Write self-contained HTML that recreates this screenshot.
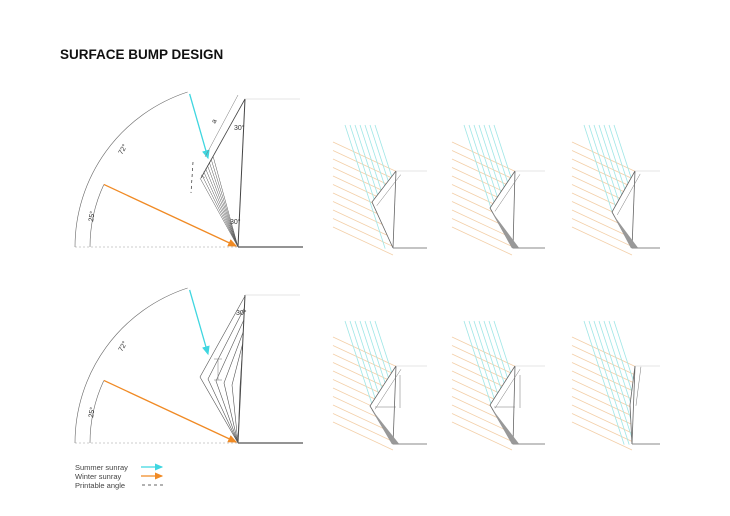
<!DOCTYPE html>
<html><head><meta charset="utf-8"><style>
html,body{margin:0;padding:0;background:#fff;}
svg{display:block;}
text{font-family:"Liberation Sans",sans-serif;}
</style></head><body>
<svg id="s" width="730" height="516" viewBox="0 0 730 516" xmlns="http://www.w3.org/2000/svg">
<defs>
<marker id="ac" markerWidth="8" markerHeight="8" refX="6" refY="3" orient="auto"><path d="M0,0 L7,3 L0,6 z" fill="#3fd6e0"/></marker>
<marker id="ao" markerWidth="8" markerHeight="8" refX="6" refY="3" orient="auto"><path d="M0,0 L7,3 L0,6 z" fill="#f08a24"/></marker>
</defs>
<text x="60" y="59" font-size="13.5" font-weight="bold" fill="#111">SURFACE BUMP DESIGN</text>
<g id="g" fill="none"></g>
<text x="75" y="470" font-size="7.5" fill="#444">Summer sunray</text>
<text x="75" y="479" font-size="7.5" fill="#444">Winter sunray</text>
<text x="75" y="488" font-size="7.5" fill="#444">Printable angle</text>
<line x1="141" y1="467" x2="162" y2="467" stroke="#3fd6e0" stroke-width="1.2" marker-end="url(#ac)"/>
<line x1="141" y1="476" x2="162" y2="476" stroke="#f08a24" stroke-width="1.2" marker-end="url(#ao)"/>
<line x1="142" y1="485" x2="166" y2="485" stroke="#333" stroke-width="0.8" stroke-dasharray="3,3"/>
<g font-size="7" fill="#333">
<text x="122" y="155" transform="rotate(-60 122 155)">72°</text>
<text x="93" y="222" transform="rotate(-80 93 222)">25°</text>
<text x="234" y="130">30°</text>
<text x="230" y="224">30°</text>
<text x="122" y="352" transform="rotate(-60 122 352)">72°</text>
<text x="93" y="418" transform="rotate(-80 93 418)">25°</text>
<text x="236" y="315">30°</text>
<text x="215" y="124" transform="rotate(-60 215 124)">a</text>
</g>
</svg>
<script>
const g=document.getElementById('g');const NS='http://www.w3.org/2000/svg';
function L(x1,y1,x2,y2,c,w,extra){const e=document.createElementNS(NS,'line');e.setAttribute('x1',x1);e.setAttribute('y1',y1);e.setAttribute('x2',x2);e.setAttribute('y2',y2);e.setAttribute('stroke',c);e.setAttribute('stroke-width',w||0.7);if(extra)for(const k in extra)e.setAttribute(k,extra[k]);g.appendChild(e);}
function P(d,c,w,f){const e=document.createElementNS(NS,'path');e.setAttribute('d',d);e.setAttribute('stroke',c);e.setAttribute('stroke-width',w||0.7);e.setAttribute('fill',f||'none');g.appendChild(e);}
function big(oy){
 const ox=238;
 L(75,oy,ox,oy,'#999',0.6,{'stroke-dasharray':'2,2'});
 L(ox,oy,303,oy,'#555',1.2);
 const r1=163,r2=148,a72=72*Math.PI/180,a25=25*Math.PI/180;
 const ex=ox-r1*Math.cos(a72),ey=oy-r1*Math.sin(a72);
 P(`M${ox-r1},${oy} A${r1},${r1} 0 0 1 ${ex},${ey}`,'#666',0.6);
 const fx=ox-r2*Math.cos(a25),fy=oy-r2*Math.sin(a25);
 P(`M${ox-r2},${oy} A${r2},${r2} 0 0 1 ${fx},${fy}`,'#666',0.6);
 L(ex+2,ey+2,208,oy-89,'#3fd6e0',1.3,{'marker-end':'url(#ac)'});
 L(fx,fy,ox-2,oy-1,'#f08a24',1.3,{'marker-end':'url(#ao)'});
 L(245,oy-148,ox,oy,'#444',1);
 L(245,oy-148,300,oy-148,'#ccc',0.6);
}
big(247);big(443);
L(245,99,201,178,'#444',0.8);
L(238,95,205,157,'#777',0.5);L(201,175,205,178,'#777',0.5);
L(193,162,191,193,'#333',0.7,{'stroke-dasharray':'3,3'});
for(let i=0;i<8;i++){const t=i/7;L(200+13*t,178-22*t,238,247,'#555',0.5);}
for(let i=0;i<6;i++){const vx=200+i*8,vy=377+i*2;P(`M${245-i*0.6},${296+i*12} L${vx},${vy} L238,443`,'#555',0.6);}
L(218,359,218,380,'#777',0.5);L(214,359,222,359,'#777',0.5);L(214,380,222,380,'#777',0.5);
function inter(px,py,dx,dy,pts){let best=1e9;for(let i=0;i<pts.length-1;i++){const [ax,ay]=pts[i],[bx,by]=pts[i+1];const ex=bx-ax,ey=by-ay;const den=dx*ey-dy*ex;if(Math.abs(den)<1e-9)continue;const t=((ax-px)*ey-(ay-py)*ex)/den;const u=((ax-px)*dy-(ay-py)*dx)/den;if(t>0&&u>=0&&u<=1&&t<best)best=t;}return best;}
function panel(ax,ay,vx,vy,bx,by,hEnd,shade,rayTop){
 const pts=[[ax,ay],[vx,vy],[bx,by]];
 const od=[1,Math.tan(25*Math.PI/180)];
 for(let i=0;i<11;i++){const sx=ax-63,sy=ay-29+i*8.5;let t=inter(sx,sy,od[0],od[1],pts);if(t>1e8)t=60;L(sx,sy,sx+od[0]*t,sy+od[1]*t,'#f3cfa8',0.8);}
 const cd=[Math.cos(72*Math.PI/180),Math.sin(72*Math.PI/180)];
 for(let i=0;i<7;i++){const sx=ax-51+i*5,sy=rayTop;let t=inter(sx,sy,cd[0],cd[1],pts);if(t>1e8)t=130;L(sx,sy,sx+cd[0]*t,sy+cd[1]*t,'#9fe6e6',0.8);}
 P(`M${ax},${ay} L${vx},${vy} L${bx},${by}`,'#666',0.8);
 L(ax,ay,bx,by,'#666',0.8);
 L(ax,ay,hEnd,ay,'#ccc',0.6);
 L(bx,by,hEnd,by,'#888',0.9);
 const nx=-(vy-ay),ny=(vx-ax);const nl=Math.hypot(nx,ny);const k=-6/nl;
 L(ax+nx*k,ay+ny*k,vx+nx*k,vy+ny*k,'#777',0.5);
 if(shade)P(`M${vx+2},${vy+4} L${bx-1},${by} L${bx+6},${by} Z`,'#888',0.3,'#999');
}
panel(396,171,372,202,393,248,427,false,125);
panel(515,171,490,208,513,248,545,true,125);
panel(635,171,612,212,632,248,660,true,125);
panel(396,366,370,406,393,444,427,true,321);
panel(515,366,490,405,513,444,545,true,321);
panel(635,366,630,405,632,444,660,false,321);
L(400,375,400,408,'#777',0.5);L(520,375,520,408,'#777',0.5);
L(375,407,396,407,'#777',0.5);L(494,407,515,407,'#777',0.5);
</script>
</body></html>
